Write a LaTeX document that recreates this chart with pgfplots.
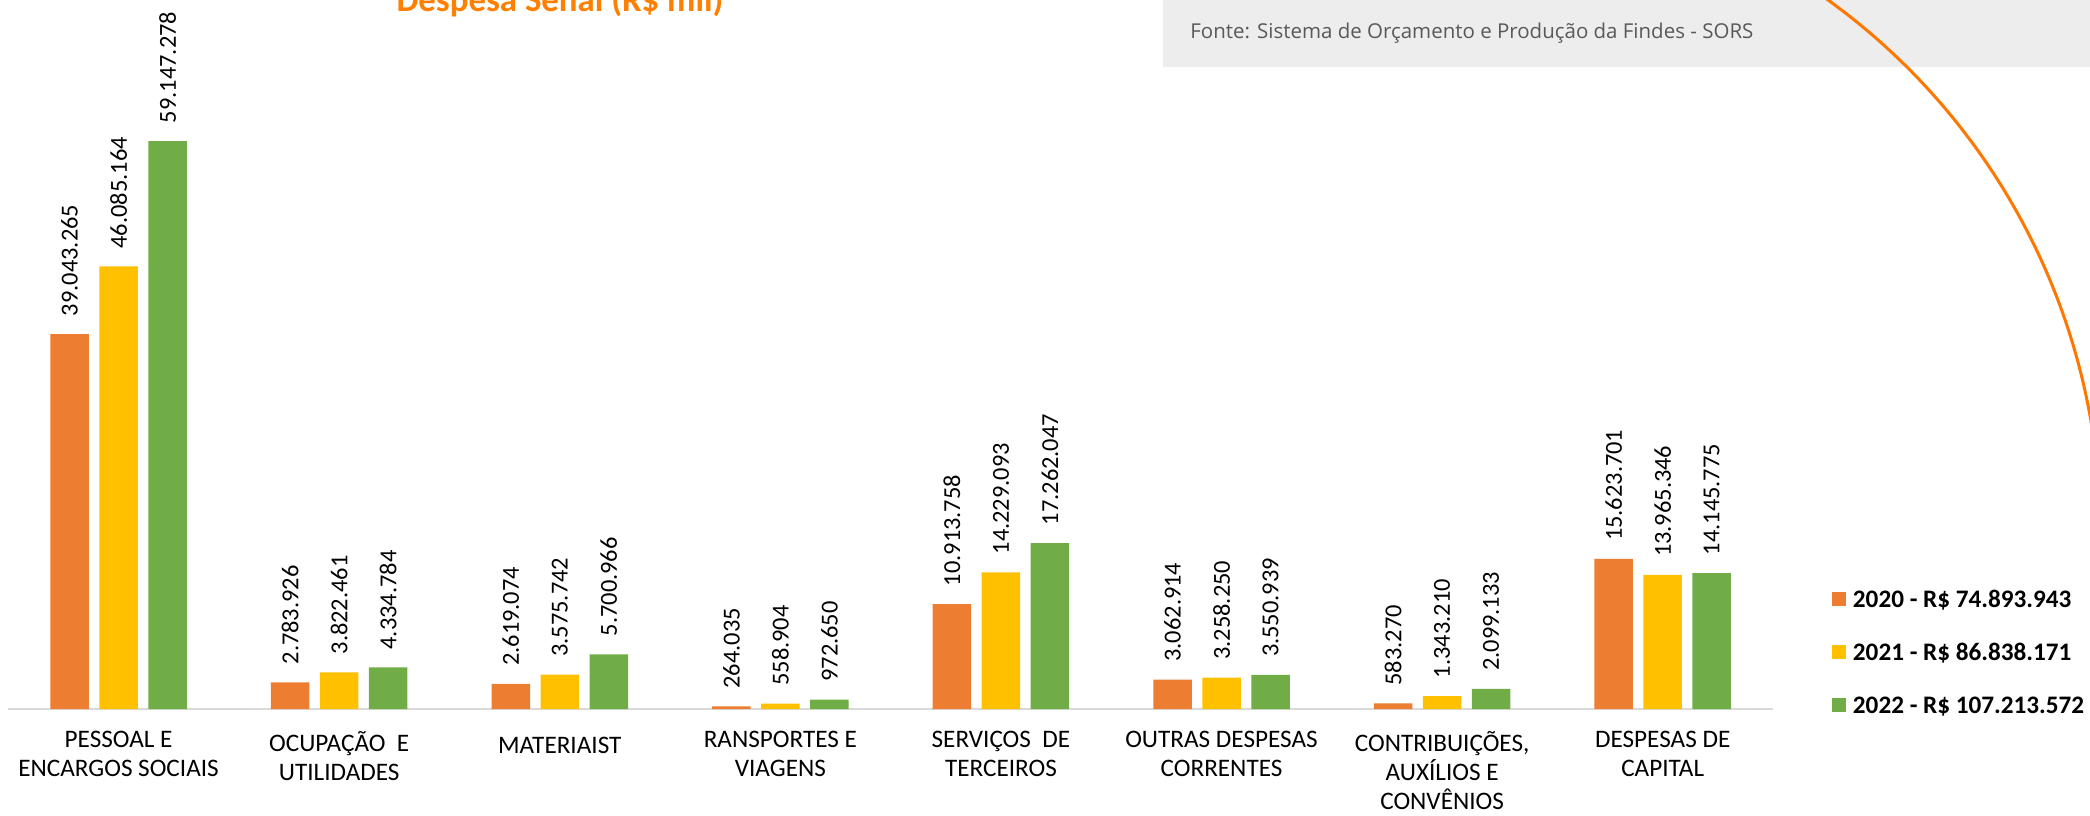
\documentclass[border=0pt]{standalone}
\usepackage{fontspec}
\setmainfont{Carlito}
\newfontfamily\opensans{Open Sans}
\usepackage{pgfplots}
\usepackage{pgfplotstable}
\pgfplotsset{compat=1.18}
\definecolor{cA}{HTML}{ED7D31}
\definecolor{cB}{HTML}{FFC000}
\definecolor{cC}{HTML}{70AD47}
\definecolor{axgray}{HTML}{D9D9D9}
\definecolor{boxgray}{HTML}{EDEDED}
\definecolor{fontegray}{HTML}{595959}
\definecolor{titleorange}{HTML}{FF8000}
\definecolor{curveorange}{HTML}{FF7700}

\pgfplotstableread{
x y lab
0 39043265 39.043.265
1 2783926 2.783.926
2 2619074 2.619.074
3 264035 264.035
4 10913758 10.913.758
5 3062914 3.062.914
6 583270 583.270
7 15623701 15.623.701
}\tA
\pgfplotstableread{
x y lab
0 46085164 46.085.164
1 3822461 3.822.461
2 3575742 3.575.742
3 558904 558.904
4 14229093 14.229.093
5 3258250 3.258.250
6 1343210 1.343.210
7 13965346 13.965.346
}\tB
\pgfplotstableread{
x y lab
0 59147278 59.147.278
1 4334784 4.334.784
2 5700966 5.700.966
3 972650 972.650
4 17262047 17.262.047
5 3550939 3.550.939
6 2099133 2.099.133
7 14145775 14.145.775
}\tC

\begin{document}
\begin{tikzpicture}[x=1pt,y=1pt]
\useasboundingbox (0,0) rectangle (1045,407.5);
\clip (0,0) rectangle (1045,407.5);
\fill[boxgray] (581.5,374) rectangle (1045,407.5);
\node[anchor=base west, inner sep=0pt, text=fontegray, font=\opensans\fontsize{10.24}{12}\selectfont] at (595,388.2) {Fonte: Sistema de Orçamento e Produção da Findes - SORS};
\draw[curveorange, line width=1.5pt] (885.9,425.7) arc[start angle=60, end angle=4, radius=328.75];
\node[anchor=base, inner sep=0pt, text=titleorange, font=\bfseries\fontsize{17.4}{20}\selectfont] at (280,401.5) {Despesa Senai (R\$ mil)};
\begin{axis}[
  at={(4.15pt,53pt)}, anchor=south west,
  scale only axis, width=882.35pt, height=354pt,
  xmin=-0.5, xmax=7.5, ymin=0, ymax=73.73e6,
  enlargelimits=false, clip=false,
  ybar=5.25pt, bar width=19.25pt,
  axis y line=none, axis x line*=bottom,
  x axis line style={draw=axgray, line width=1pt},
  ytick=\empty,
  xtick={0,1,2,3,4,5,6,7},
  major tick length=0pt,
  xticklabels={{PESSOAL E\\ENCARGOS SOCIAIS},{OCUPAÇÃO\ \ E\\UTILIDADES},{MATERIAIST},{RANSPORTES E\\VIAGENS},{SERVIÇOS\ \ DE\\TERCEIROS},{OUTRAS DESPESAS\\CORRENTES},{CONTRIBUIÇÕES,\\AUXÍLIOS E\\CONVÊNIOS},{DESPESAS DE\\CAPITAL}},
  xticklabel style={anchor=north, inner sep=0pt, yshift=-10.8pt, align=center, font=\fontsize{12.6}{14.6}\selectfont, text=black, execute at begin node={\rule{0pt}{11pt}}},
  point meta=explicit symbolic,
  nodes near coords={\hspace*{9pt}\pgfplotspointmeta},
  every node near coord/.append style={rotate=90, anchor=west, inner sep=0pt, outer sep=0pt, font=\fontsize{12.2}{14}\selectfont, text=black},
  legend image code/.code={\fill[#1] (0pt,0.5pt) rectangle (7pt,7.5pt);},
  legend style={at={(axis description cs:1.0334,0.0805)}, anchor=west, draw=none, fill=none, inner sep=0pt, outer sep=0pt, row sep=18.5pt, column sep=3.5pt, font=\bfseries\fontsize{12.6}{14}\selectfont, nodes={inner sep=0pt, text height=8pt, text depth=0pt, anchor=base west}},
  legend cell align=left,
]
\addplot[fill=cA, draw=none] table[x=x, y=y, meta=lab] {\tA};
\addlegendentry{2020 - R\$ 74.893.943}
\addplot[fill=cB, draw=none] table[x=x, y=y, meta=lab] {\tB};
\addlegendentry{2021 - R\$ 86.838.171}
\addplot[fill=cC, draw=none] table[x=x, y=y, meta=lab] {\tC};
\addlegendentry{2022 - R\$ 107.213.572}
\end{axis}
\end{tikzpicture}
\end{document}
